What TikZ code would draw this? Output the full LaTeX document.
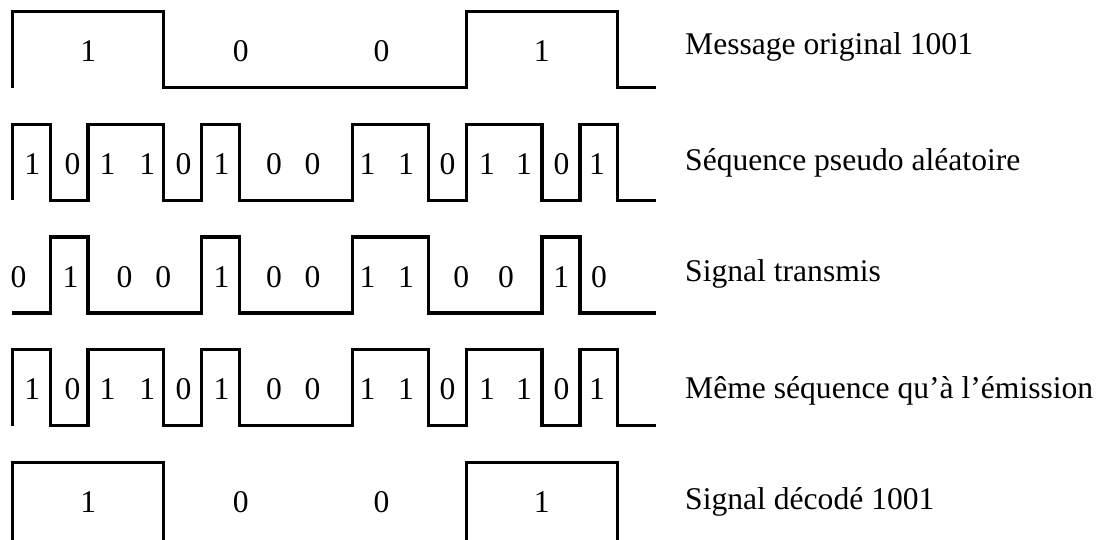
\documentclass[tikz,border=0pt]{standalone}
\usepackage{fontspec}
\setmainfont{Liberation Serif}
\begin{document}
\begin{tikzpicture}[x=1pt,y=-1pt,
  wave/.style={line width=3.2pt,line join=miter},
  bit/.style={inner sep=0pt,anchor=base,font=\fontsize{31.6}{38}\selectfont},
  lbl/.style={inner sep=0pt,anchor=base west,font=\fontsize{31.6}{38}\selectfont}]
\useasboundingbox (0,0) rectangle (1103,539);
% chip boundaries: b_i = 12.3 + 37.84 i
% Row 1 : message original
\draw[wave] (12.3,87.5)--(12.3,11.7)--(163.66,11.7)--(163.66,87.5)--(466.38,87.5)--(466.38,11.7)--(617.74,11.7)--(617.74,87.5)--(655.58,87.5);
\node[bit] (m1) at (88.3,61.7) {1};
\node[bit] (m2) at (240.8,61.7) {0};
\node[bit] (m3) at (381.6,61.7) {0};
\node[bit] (m4) at (541.7,61.7) {1};
\node[lbl] (t1) at (685,54.3) {Message original 1001};
% Row 2 : pseudo-random sequence
\draw[wave] (12.3,200.3)--(12.3,124.3)--(50.14,124.3)--(50.14,200.3)--(87.98,200.3)--(87.98,124.3)--(163.66,124.3)--(163.66,200.3)--(201.5,200.3)--(201.5,124.3)--(239.34,124.3)--(239.34,200.3)--(352.86,200.3)--(352.86,124.3)--(428.54,124.3)--(428.54,200.3)--(466.38,200.3)--(466.38,124.3)--(542.06,124.3)--(542.06,200.3)--(579.9,200.3)--(579.9,124.3)--(617.74,124.3)--(617.74,200.3)--(655.58,200.3);
\foreach \x/\v [count=\i] in {32.3/1,72.5/0,107.5/1,147.3/1,183.5/0,221.5/1,274/0,312.5/0,367.5/1,406/1,447.5/0,487/1,524/1,561.5/0,597/1}
  \node[bit] (p\i) at (\x,174.3) {\v};
\node[lbl] (t2) at (685,170.5) {Séquence pseudo aléatoire};
% Row 3 : transmitted signal
\draw[wave] (12.3,313)--(50.14,313)--(50.14,237)--(87.98,237)--(87.98,313)--(201.5,313)--(201.5,237)--(239.34,237)--(239.34,313)--(352.86,313)--(352.86,237)--(428.54,237)--(428.54,313)--(542.06,313)--(542.06,237)--(579.9,237)--(579.9,313)--(655.58,313);
\foreach \x/\v [count=\i] in {18.4/0,70.5/1,124.5/0,163.3/0,221.5/1,274/0,312.5/0,367.5/1,406/1,461.2/0,506.1/0,561.2/1,599/0}
  \node[bit] (s\i) at (\x,287) {\v};
\node[lbl] (t3) at (685,281.5) {Signal transmis};
% Row 4 : same sequence as emission
\draw[wave] (12.3,425.6)--(12.3,349.6)--(50.14,349.6)--(50.14,425.6)--(87.98,425.6)--(87.98,349.6)--(163.66,349.6)--(163.66,425.6)--(201.5,425.6)--(201.5,349.6)--(239.34,349.6)--(239.34,425.6)--(352.86,425.6)--(352.86,349.6)--(428.54,349.6)--(428.54,425.6)--(466.38,425.6)--(466.38,349.6)--(542.06,349.6)--(542.06,425.6)--(579.9,425.6)--(579.9,349.6)--(617.74,349.6)--(617.74,425.6)--(655.58,425.6);
\foreach \x/\v [count=\i] in {32.3/1,72.5/0,107.5/1,147.3/1,183.5/0,221.5/1,274/0,312.5/0,367.5/1,406/1,447.5/0,487/1,524/1,561.5/0,597/1}
  \node[bit] (q\i) at (\x,399.6) {\v};
\node[lbl] (t4) at (685,398) {Même séquence qu’à l’émission};
% Row 5 : decoded signal
\draw[wave] (12.3,540)--(12.3,462.2)--(163.66,462.2)--(163.66,540);
\draw[wave] (466.38,540)--(466.38,462.2)--(617.74,462.2)--(617.74,540);
\node[bit] (d1) at (88.3,512.2) {1};
\node[bit] (d2) at (240.8,512.2) {0};
\node[bit] (d3) at (381.6,512.2) {0};
\node[bit] (d4) at (541.7,512.2) {1};
\node[lbl] (t5) at (685,509) {Signal décodé 1001};
\end{tikzpicture}
\end{document}
